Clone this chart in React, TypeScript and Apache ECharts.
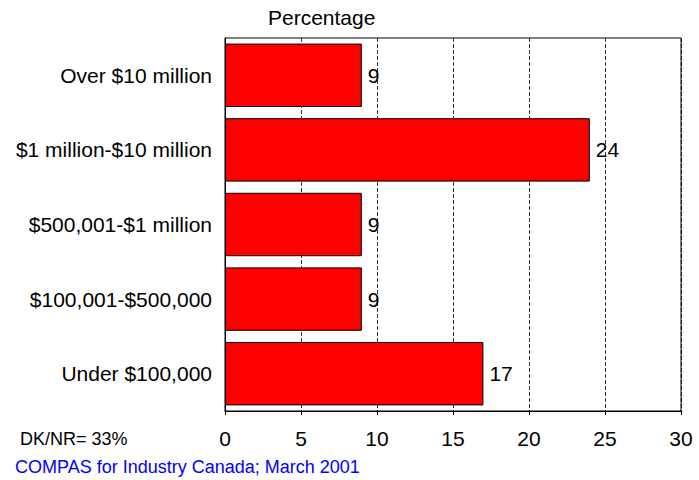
import React, { useEffect, useRef } from "react";
import * as echarts from "echarts";

const categories = [
  "Under $100,000",
  "$100,001-$500,000",
  "$500,001-$1 million",
  "$1 million-$10 million",
  "Over $10 million",
];
const values = [17, 9, 9, 24, 9];
const axisTitle = "Percentage";
const noteText = "DK/NR= 33%";
const sourceText = "COMPAS for Industry Canada; March 2001";

export default function App() {
  const ref = useRef<HTMLDivElement>(null);
  useEffect(() => {
    document.body.style.margin = "0";
    const chart = echarts.init(ref.current!, null, { renderer: "svg" });
    const font = "'Liberation Sans', Arial, sans-serif";
    chart.setOption({
      animation: false,
      textStyle: { fontFamily: font },
      grid: {
        left: 225,
        right: 18,
        top: 38,
        bottom: 69,
        show: true,
        borderColor: "#000",
        borderWidth: 1,
        containLabel: false,
      },
      xAxis: {
        type: "value",
        min: 0,
        max: 30,
        interval: 5,
        axisLine: { show: true, lineStyle: { color: "#000" } },
        axisTick: { show: true, length: 4, inside: false, lineStyle: { color: "#000" } },
        axisLabel: { color: "#000", fontSize: 21, margin: 17, fontFamily: font },
        splitLine: { show: true, lineStyle: { color: "#000", type: [4, 2], width: 0.8 } },
      },
      yAxis: {
        type: "category",
        data: categories,
        axisLine: { show: true, lineStyle: { color: "#000" } },
        axisTick: { show: false },
        axisLabel: { color: "#000", fontSize: 21, margin: 13, fontFamily: font },
      },
      series: [
        {
          type: "bar",
          data: values,
          barWidth: "85%",
          itemStyle: { color: "#ff0000", borderColor: "#000", borderWidth: 1 },
          label: {
            show: true,
            position: "right",
            distance: 6,
            color: "#000",
            fontSize: 21,
            fontFamily: font,
          },
        },
      ],
      graphic: [
        {
          type: "text",
          left: 268,
          top: 7,
          style: { text: axisTitle, fill: "#000", font: `21px ${font}` },
        },
        {
          type: "text",
          left: 20,
          top: 430,
          style: { text: noteText, fill: "#000", font: `18px ${font}` },
        },
        {
          type: "text",
          left: 15,
          top: 458,
          style: { text: sourceText, fill: "#0000ff", font: `18px ${font}` },
        },
      ],
    });
    return () => chart.dispose();
  }, []);
  return <div ref={ref} style={{ width: 699, height: 480 }} />;
}
